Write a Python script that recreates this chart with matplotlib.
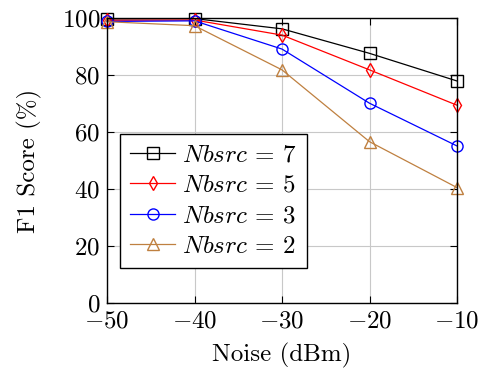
import matplotlib
matplotlib.use("Agg")
import matplotlib.pyplot as plt

plt.rcParams["font.family"] = ["cmr10", "DejaVu Serif"]
plt.rcParams["mathtext.fontset"] = "cm"
plt.rcParams["axes.formatter.use_mathtext"] = True

noise = [-50, -40, -30, -20, -10]
f1_n7 = [99.7, 99.8, 96.2, 87.6, 77.9]
f1_n5 = [99.2, 99.3, 94.0, 81.8, 69.4]
f1_n3 = [98.8, 99.0, 89.1, 70.1, 55.1]
f1_n2 = [98.7, 97.3, 81.8, 56.6, 40.5]
x_ticks = [-50, -40, -30, -20, -10]
y_ticks = [0, 20, 40, 60, 80, 100]

series = [
    (f1_n7, "black", "s", r"$Nbsrc\,=\,7$"),
    (f1_n5, "red", "d", r"$Nbsrc\,=\,5$"),
    (f1_n3, "blue", "o", r"$Nbsrc\,=\,3$"),
    (f1_n2, "#BF8040", "^", r"$Nbsrc\,=\,2$"),
]

fig = plt.figure(figsize=(4.87, 3.70), dpi=100)
ax = fig.add_axes([107 / 487, 1 - 303 / 370, 350 / 487, 285 / 370])

for values, color, marker, label in series:
    ax.plot(noise, values, color=color, marker=marker, markersize=8 if marker != "d" else 7,
            markerfacecolor="none", markeredgecolor=color, linewidth=0.9, label=label,
            clip_on=False)

ax.set_xlim(-50, -10)
ax.set_ylim(0, 100)
ax.set_xticks(x_ticks)
ax.set_xticklabels([r"$%d$" % v for v in x_ticks])
ax.set_yticks(y_ticks)
ax.set_yticklabels([r"$%d$" % v for v in y_ticks])
ax.grid(True, color="#c8c8c8", linewidth=0.8)
ax.set_axisbelow(True)
ax.tick_params(direction="in", top=True, right=True, labelsize=18, length=5, pad=5)
for spine in ax.spines.values():
    spine.set_linewidth(1.0)
ax.set_xlabel("Noise (dBm)", fontsize=18, labelpad=8)
ax.set_ylabel("F1 Score (%)", fontsize=18, labelpad=14)

leg = ax.legend(loc="lower left", bbox_to_anchor=(13 / 350, 35 / 285), borderaxespad=0,
                fontsize=18, frameon=True, fancybox=False, edgecolor="black", framealpha=1,
                handlelength=1.8, borderpad=0.4, labelspacing=0.32, handletextpad=0.3)
leg.get_frame().set_linewidth(1.0)

fig.savefig("out.png", dpi=100)
